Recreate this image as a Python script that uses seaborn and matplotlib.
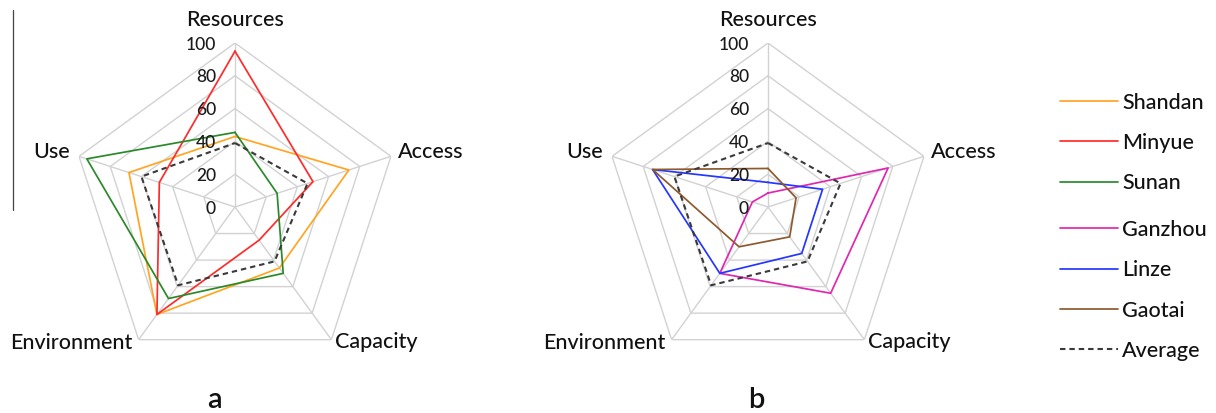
import numpy as np
import pandas as pd
import matplotlib
matplotlib.use("Agg")
import matplotlib.pyplot as plt
import seaborn as sns
from matplotlib.lines import Line2D
from matplotlib.transforms import offset_copy

# ---- data ---------------------------------------------------------------
categories = ["Resources", "Access", "Capacity", "Environment", "Use"]
ring_levels = [20, 40, 60, 80, 100]
tick_values = [0, 20, 40, 60, 80, 100]
tick_labels = ["0", "20", "40", "60", "80", "100"]

shandan = [43, 73, 46, 81, 68]
minyue = [95, 50, 25, 81, 48.5]
sunan = [45.5, 27, 50, 69, 95]
ganzhou = [8.5, 77, 65, 50, 10]
linze = [15, 35, 35, 50, 74]
gaotai = [23.5, 18, 22.5, 30, 74]
average = [39, 46.5, 41, 59, 60]

group_a = ["Shandan", "Minyue", "Sunan"]
group_b = ["Ganzhou", "Linze", "Gaotai"]
series_values = {
    "Shandan": shandan, "Minyue": minyue, "Sunan": sunan,
    "Ganzhou": ganzhou, "Linze": linze, "Gaotai": gaotai,
}
palette = {
    "Shandan": "#FFA523", "Minyue": "#FF2B2B", "Sunan": "#2A8A2A",
    "Ganzhou": "#E027B0", "Linze": "#2436FF", "Gaotai": "#8C5A2E",
}
avg_color = "#3a3a3a"
grid_color = "#d2d2d2"

# ---- style --------------------------------------------------------------
sns.set_style("white")
plt.rcParams["font.family"] = ["Lato", "DejaVu Sans"]
plt.rcParams["font.weight"] = "medium"
plt.rcParams["text.color"] = "#111111"

W, H, DPI = 1216, 413, 100
fig = plt.figure(figsize=(W / DPI, H / DPI), dpi=DPI)

n = len(categories)
angles = np.linspace(0, 2 * np.pi, n, endpoint=False)
closed_angles = np.append(angles, 2 * np.pi)


def long_frame(names):
    rows = []
    for name in names:
        vals = series_values[name]
        for th, v in zip(closed_angles, list(vals) + [vals[0]]):
            rows.append({"series": name, "theta": th, "value": v})
    return pd.DataFrame(rows)


avg_frame = pd.DataFrame({"theta": closed_angles,
                          "value": list(average) + [average[0]]})

# label placement: (theta in degrees clockwise from top, radius, ha)
label_layout = {
    "Resources": (0.0, 110.4, "center"),
    "Access": (73.3, 103.8, "left"),
    "Capacity": (144.7, 105.4, "left"),
    "Environment": (215.7, 106.6, "right"),
    "Use": (286.5, 105.0, "right"),
}

LABEL_FS = 15.5


def radar(cx, cy, radius, names, letter, letter_x):
    ax = fig.add_axes([(cx - radius) / W, (H - cy - radius) / H,
                       2 * radius / W, 2 * radius / H], projection="polar")
    ax.set_theta_offset(np.pi / 2)
    ax.set_theta_direction(-1)
    ax.grid(False)
    ax.spines["polar"].set_visible(False)
    ax.patch.set_visible(False)

    # pentagon rings and spokes
    for r in ring_levels:
        ax.plot(closed_angles, [r] * (n + 1), color=grid_color, lw=1.0, zorder=0)
    for th in angles:
        ax.plot([th, th], [0, 100], color=grid_color, lw=1.0, zorder=0)

    sns.lineplot(data=long_frame(names), x="theta", y="value", hue="series",
                 palette=palette, sort=False, estimator=None, legend=False,
                 linewidth=1.25, ax=ax)
    sns.lineplot(data=avg_frame, x="theta", y="value", sort=False,
                 estimator=None, color=avg_color, linewidth=1.5,
                 linestyle=(0, (2.6, 1.9)), ax=ax)

    ax.set_ylim(0, 100)
    ax.set_xticks([])
    ax.set_yticks([])
    ax.set_xlabel("")
    ax.set_ylabel("")

    tick_tf = offset_copy(ax.transData, fig=fig, x=-19, y=0, units="dots")
    for v, lab in zip(tick_values, tick_labels):
        ax.text(0, v, lab, transform=tick_tf, ha="right", va="center_baseline",
                fontsize=12.5, color="#1a1a1a", clip_on=False)

    for cat in categories:
        deg, r, ha = label_layout[cat]
        ax.text(np.deg2rad(deg), r, cat, ha=ha, va="baseline",
                fontsize=LABEL_FS, clip_on=False)

    fig.text(letter_x / W, 4.5 / H, letter, ha="center", va="baseline",
             fontsize=21, fontweight="semibold")
    return ax


radar(235, 207, 164, group_a, "a", 214)
radar(768, 207, 164, group_b, "b", 756)


# legend, two blocks
def handles(names):
    return [Line2D([], [], color=palette[nm], lw=1.25) for nm in names]


legend_kw = dict(frameon=False, fontsize=LABEL_FS, handlelength=2.7,
                 handletextpad=0.2, labelspacing=0.95, borderpad=0,
                 borderaxespad=0, loc="center left")
fig.legend(handles(group_a), group_a,
           bbox_to_anchor=(1060 / W, 1 - 143.0 / H), **legend_kw)
fig.legend(handles(group_b) + [Line2D([], [], color=avg_color, lw=1.5,
                                      linestyle=(0, (2.6, 1.9)))],
           group_b + ["Average"],
           bbox_to_anchor=(1060 / W, 1 - 290.3 / H), **legend_kw)

# thin rule at the left edge
fig.add_artist(Line2D([13 / W, 13 / W], [1 - 10 / H, 1 - 210 / H],
                      color="#444444", lw=0.9))

fig.savefig("out.png", dpi=DPI)
